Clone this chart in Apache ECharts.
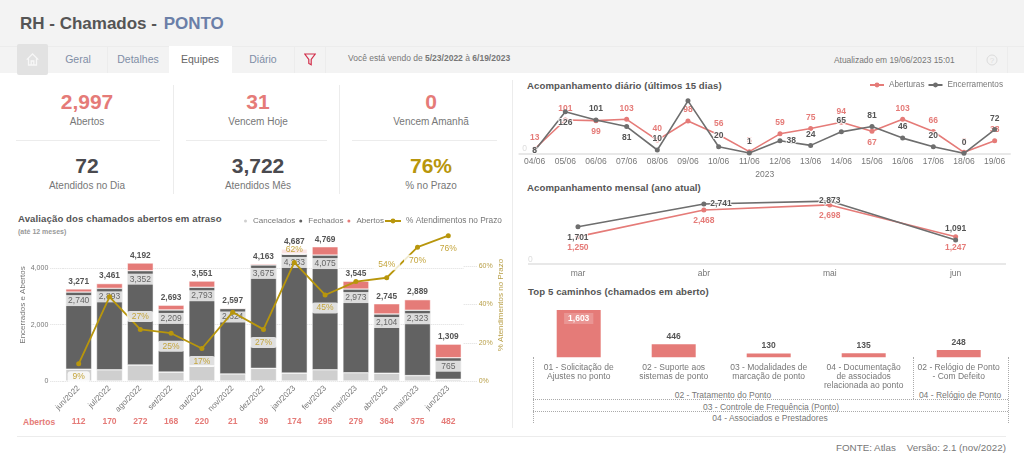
<!DOCTYPE html>
<html>
<head>
<meta charset="utf-8">
<title>RH - Chamados - PONTO</title>
<script src="https://cdn.jsdelivr.net/npm/echarts@6/dist/echarts.min.js"></script>
<style>
  html, body { margin: 0; padding: 0; background: #fff; }
  body { width: 1024px; height: 459px; overflow: hidden; position: relative; font-family: "Liberation Sans", Arial, sans-serif; color: #777; }
  .abs { position: absolute; white-space: nowrap; }
  .mid { transform: translate(-50%, -50%); }
  .vmid { transform: translateY(-50%); }
  .head { left: 0; top: 0; width: 1024px; height: 73px; background: #f3f3f3; }
  .hline { background: #ececec; height: 1px; }
  .vline { background: #ececec; width: 1px; }
  .tab { font-size: 10.5px; color: #7f8ea6; }
  .num { font-size: 21px; font-weight: bold; }
  .cap { font-size: 10px; color: #777; }
  .title { font-size: 9.6px; font-weight: bold; color: #555; letter-spacing: 0.1px; }
  .dot-h { border-top: 1px dotted #aaa; height: 0; }
  .dot-v { border-left: 1px dotted #aaa; width: 0; }
  .path { font-size: 8.5px; color: #777; }
  #main { position: absolute; left: 0; top: 0; width: 1024px; height: 459px; }
</style>
</head>
<body>
<div class="abs head"></div>
<div class="abs hline" style="left:0;top:46px;width:1024px"></div>
<div class="abs vmid" style="left:20px;top:24px;font-size:17px;font-weight:bold;color:#555">RH - Chamados - <span style="color:#6b7fa8;margin-left:2px">PONTO</span></div>

<div class="abs" style="left:17px;top:44px;width:31px;height:31px;background:#e2e2e2;border-radius:2px"></div>
<svg class="abs" style="left:26px;top:53px" width="13" height="13" viewBox="0 0 13 13" fill="none" stroke="#f7f7f7" stroke-width="1.3"><path d="M0.7 6.6 L6.5 1 L12.3 6.6 M2.5 5.5 V12 H10.5 V5.5 M5.2 12 V8 H7.8 V12"/></svg>
<div class="abs vline" style="left:107px;top:47px;height:26px"></div>
<div class="abs vline" style="left:294px;top:47px;height:26px"></div>
<div class="abs vline" style="left:325px;top:47px;height:26px"></div>
<div class="abs vline" style="left:976px;top:47px;height:26px"></div>
<div class="abs vline" style="left:1007px;top:47px;height:26px"></div>
<div class="abs" style="left:169px;top:46px;width:63px;height:28px;background:#fff"></div>
<div class="abs tab mid" style="left:78px;top:59px">Geral</div>
<div class="abs tab mid" style="left:138px;top:59px">Detalhes</div>
<div class="abs tab mid" style="left:200px;top:59px;color:#666">Equipes</div>
<div class="abs tab mid" style="left:263px;top:59px">Diário</div>
<svg class="abs" style="left:304px;top:53px" width="12" height="13" viewBox="0 0 12 13" fill="none" stroke="#d2304c" stroke-width="1.2"><path d="M0.8 1 H11.2 L7.2 6.4 V11.8 L4.8 10.4 V6.4 Z"/></svg>
<div class="abs vmid" style="left:348px;top:58px;font-size:8.5px;color:#777">Você está vendo de <b>5/23/2022</b> à <b>6/19/2023</b></div>
<div class="abs vmid" style="left:834px;top:60px;font-size:8.4px;color:#777">Atualizado em 19/06/2023 15:01</div>
<svg class="abs" style="left:986px;top:54px" width="12" height="12" viewBox="0 0 12 12" fill="none" stroke="#dcdcdc"><circle cx="6" cy="6" r="5"/><text x="6" y="9" font-size="8" text-anchor="middle" fill="#dcdcdc" stroke="none">?</text></svg>

<div class="abs num mid" style="left:87px;top:102px;color:#e57b78">2,997</div>
<div class="abs cap mid" style="left:87px;top:121px">Abertos</div>
<div class="abs num mid" style="left:258px;top:102px;color:#e57b78">31</div>
<div class="abs cap mid" style="left:258px;top:121px">Vencem Hoje</div>
<div class="abs num mid" style="left:431px;top:102px;color:#e57b78">0</div>
<div class="abs cap mid" style="left:431px;top:121px">Vencem Amanhã</div>
<div class="abs num mid" style="left:87px;top:166px;color:#4a4a4f">72</div>
<div class="abs cap mid" style="left:87px;top:185px">Atendidos no Dia</div>
<div class="abs num mid" style="left:258px;top:166px;color:#4a4a4f">3,722</div>
<div class="abs cap mid" style="left:258px;top:185px">Atendidos Mês</div>
<div class="abs num mid" style="left:431px;top:166px;color:#b8960c">76%</div>
<div class="abs cap mid" style="left:431px;top:185px">% no Prazo</div>
<div class="abs hline" style="left:16px;top:140px;width:144px"></div>
<div class="abs hline" style="left:186px;top:140px;width:141px"></div>
<div class="abs hline" style="left:352px;top:140px;width:145px"></div>
<div class="abs vline" style="left:173px;top:85px;height:109px"></div>
<div class="abs vline" style="left:339px;top:85px;height:109px"></div>
<div class="abs vline" style="left:512px;top:80px;height:348px"></div>
<div class="abs hline" style="left:17px;top:436px;width:989px"></div>

<div class="abs title vmid" style="left:18px;top:218px">Avaliação dos chamados abertos em atraso</div>
<div class="abs vmid" style="left:18px;top:231px;font-size:7px;font-weight:bold;color:#999">(até 12 meses)</div>
<div class="abs vmid" style="left:23px;top:422px;font-size:8.5px;font-weight:bold;color:#e57b78">Abertos</div>
<div class="abs title vmid" style="left:527px;top:85px">Acompanhamento diário (últimos 15 dias)</div>
<div class="abs title vmid" style="left:527px;top:187px">Acompanhamento mensal (ano atual)</div>
<div class="abs title vmid" style="left:528px;top:291px">Top 5 caminhos (chamados em aberto)</div>
<div class="abs" style="left:528px;top:263px;width:478px;height:2px;background:#e8e8e8"></div>

<div class="abs dot-v" style="left:533px;top:357px;height:66px"></div>
<div class="abs dot-v" style="left:913px;top:357px;height:42px"></div>
<div class="abs dot-v" style="left:1008px;top:357px;height:66px"></div>
<div class="abs dot-h" style="left:533px;top:399px;width:475px"></div>
<div class="abs dot-h" style="left:533px;top:411px;width:475px"></div>
<div class="abs path mid" style="left:723px;top:395px">02 - Tratamento do Ponto</div>
<div class="abs path mid" style="left:960px;top:395px">04 - Relógio de Ponto</div>
<div class="abs path mid" style="left:771px;top:406.5px">03 - Controle de Frequência (Ponto)</div>
<div class="abs path mid" style="left:770px;top:418px">04 - Associados e Prestadores</div>
<div class="abs vmid" style="left:836px;top:447px;font-size:9.8px;color:#777">FONTE: Atlas &nbsp;&nbsp; Versão: 2.1 (nov/2022)</div>

<div id="main"></div>

<script>
// chamados em atraso
const months = ['jun/2022', 'jul/2022', 'ago/2022', 'set/2022', 'out/2022', 'nov/2022', 'dez/2022', 'jan/2023', 'fev/2023', 'mar/2023', 'abr/2023', 'mai/2023', 'jun/2023']
const totals = [3271, 3461, 4192, 2693, 3551, 2597, 4163, 4687, 4769, 3545, 2745, 2889, 1309]
const cancelados = [419, 398, 568, 316, 538, 252, 449, 280, 399, 293, 277, 191, 62]
const fechados = [2740, 2893, 3352, 2209, 2793, 2324, 3675, 4233, 4075, 2973, 2104, 2323, 765]
const abertos = [112, 170, 272, 168, 220, 21, 39, 174, 295, 279, 364, 375, 482]
const noPrazo = [9, 44, 27, 25, 17, 36, 27, 62, 45, 52, 54, 70, 76]

// diario
const days = ['04/06', '05/06', '06/06', '07/06', '08/06', '09/06', '10/06', '11/06', '12/06', '13/06', '14/06', '15/06', '16/06', '17/06', '18/06', '19/06']
const dailyOpen = [13, 101, 99, 103, 40, 98, 56, 5, 59, 75, 94, 67, 103, 66, 3, 38]
const dailyClosed = [8, 126, 101, 81, 10, 159, 20, 1, 38, 24, 65, 81, 46, 20, 0, 72]

// mensal
const monthsYear = ['mar', 'abr', 'mai', 'jun']
const monthlyOpen = [1250, 2468, 2698, 1247]
const monthlyClosed = [1701, 2741, 2873, 1091]

// top 5
const paths = ['01 - Solicitação de\nAjustes no ponto', '02 - Suporte aos\nsistemas de ponto', '03 - Modalidades de\nmarcação de ponto', '04 - Documentação\nde associados\nrelacionada ao ponto', '02 - Relógio de Ponto\n- Com Defeito']
const pathValues = [1603, 446, 130, 135, 248]

const RED = '#e57b78'
const DARK = '#626262'
const LINE_DARK = '#6e6e6e'
const LIGHT = '#cfcfcf'
const GOLD = '#b8960c'
const GREY = '#777'
const FONT = '"Liberation Sans", Arial, sans-serif'

const fmt = v => Number(v).toLocaleString('en-US')

// label side per point, anything not listed goes on top
function placed(values, cats, spots, base) {
  return values.map((v, i) => {
    const spot = spots[cats[i]]
    if (spot === 'none') return { value: v, label: { show: false } }
    return { value: v, label: Object.assign({}, base, { position: spot || 'top' }) }
  })
}

const pctBox = { show: true, color: '#c4a53c', fontSize: 8.5, fontFamily: FONT, backgroundColor: 'rgba(255,255,255,0.8)', borderRadius: 3, padding: [1, 5], distance: 5, formatter: p => p.value + '%' }
const pctSpots = { 'jun/2022': 'bottom', 'jul/2022': 'none', 'set/2022': 'bottom', 'out/2022': 'bottom', 'nov/2022': 'none', 'dez/2022': 'bottom', 'fev/2023': 'bottom', 'mar/2023': 'none', 'mai/2023': 'bottom', 'jun/2023': 'bottom' }
const halo = { textBorderColor: 'rgba(255,255,255,0.85)', textBorderWidth: 2 }
const openBase = Object.assign({ show: true, color: RED, fontSize: 8.5, fontWeight: 'bold', fontFamily: FONT, distance: 4 }, halo)
const closedBase = Object.assign({ show: true, color: '#555', fontSize: 8.5, fontWeight: 'bold', fontFamily: FONT, distance: 4 }, halo)
const dailyOpenSpots = { '06/06': 'bottom', '15/06': 'bottom' }
const dailyClosedSpots = { '04/06': 'inside', '05/06': 'bottom', '07/06': 'bottom', '09/06': 'none', '12/06': 'right' }
const monthlyOpenSpots = { mar: 'bottom', abr: 'bottom', mai: 'bottom', jun: 'bottom' }
const monthlyClosedSpots = { mar: 'bottom', abr: 'right', mai: 'inside' }
const openFmt = Object.assign({}, openBase, { formatter: p => fmt(p.value) })
const closedFmt = Object.assign({}, closedBase, { formatter: p => fmt(p.value) })

function lineSeries(name, data, color, xi, yi, z) {
  return { name, type: 'line', xAxisIndex: xi, yAxisIndex: yi, data, z, symbol: 'circle', symbolSize: 5, showAllSymbol: true, itemStyle: { color }, lineStyle: { color, width: 1.6 } }
}

const option = {
  animation: false,
  textStyle: { fontFamily: FONT },
  legend: [
    { left: 242, top: 217, itemWidth: 5, itemHeight: 5, itemGap: 2, icon: 'circle', padding: 0, data: ['Cancelados', 'Fechados', 'Abertos'], textStyle: { color: GREY, fontSize: 8 } },
    { left: 384, top: 217, itemWidth: 16, itemHeight: 6, padding: 0, data: ['% Atendimentos no Prazo'], textStyle: { color: GREY, fontSize: 8.3 } },
    { left: 869, top: 81, itemWidth: 14, itemHeight: 6, itemGap: 3, padding: 0, data: ['Aberturas', 'Encerramentos'], textStyle: { color: GREY, fontSize: 8.2 } },
  ],
  grid: [
    { left: 63.3, width: 400.4, top: 229, height: 152 },
    { left: 519.3, width: 490.7, top: 100.5, height: 52.8 },
    { left: 515, width: 503.6, top: 198.3, height: 65.7 },
    { left: 531.2, width: 475, top: 298.3, height: 59 },
  ],
  xAxis: [
    { gridIndex: 0, type: 'category', data: months, axisLine: { show: false }, axisTick: { show: false }, axisLabel: { rotate: 45, interval: 0, fontSize: 8, color: GREY, margin: 6 } },
    { gridIndex: 0, type: 'category', position: 'bottom', offset: 36, data: abertos.map(String), axisLine: { show: false }, axisTick: { show: false }, axisLabel: { interval: 0, fontSize: 8.5, fontWeight: 'bold', color: RED, margin: 0 } },
    { gridIndex: 1, type: 'category', data: days, name: '2023', nameLocation: 'middle', nameGap: 17, nameTextStyle: { color: GREY, fontSize: 8.5 }, axisLine: { lineStyle: { color: '#e8e8e8', width: 2 } }, axisTick: { show: false }, axisLabel: { interval: 0, fontSize: 8.5, color: GREY, margin: 4 } },
    { gridIndex: 2, type: 'category', data: monthsYear, axisLine: { show: false }, axisTick: { show: false }, axisLabel: { fontSize: 8.5, color: GREY, margin: 5 } },
    { gridIndex: 3, type: 'category', data: paths, axisLine: { show: false }, axisTick: { show: false }, axisLabel: { interval: 0, fontSize: 8.5, lineHeight: 9, color: GREY, margin: 6 } },
  ],
  yAxis: [
    { gridIndex: 0, type: 'value', min: 0, max: 5400, interval: 2000, name: 'Encerrados e Abertos', nameLocation: 'middle', nameGap: 33, nameTextStyle: { color: GREY, fontSize: 8 }, axisLine: { show: false },
      axisTick: { show: true, customValues: [0, 2000, 4000], length: 13, lineStyle: { color: '#ddd', type: 'dotted' } },
      axisLabel: { customValues: [0, 2000, 4000], fontSize: 7, color: GREY, margin: 15, formatter: fmt },
      splitLine: { show: true, lineStyle: { color: '#ddd', type: 'dotted' } } },
    { gridIndex: 0, type: 'value', position: 'right', min: 0, max: 79.5, interval: 20, name: '% Atendimentos no Prazo', nameLocation: 'middle', nameGap: 29, nameTextStyle: { color: '#b9a04a', fontSize: 8 }, axisLine: { show: false },
      axisTick: { show: true, customValues: [0, 20, 40, 60], length: 13, lineStyle: { color: '#ddd', type: 'dotted' } },
      axisLabel: { customValues: [0, 20, 40, 60], fontSize: 7, color: '#b9a04a', margin: 15, formatter: v => v + '%' },
      splitLine: { show: false } },
    { gridIndex: 1, type: 'value', min: 0, max: 160, interval: 160, axisLine: { show: false }, axisTick: { show: false }, splitLine: { show: false },
      axisLabel: { inside: true, margin: 3, verticalAlign: 'bottom', fontSize: 8.5, color: '#ddd', formatter: v => (v === 0 ? '0' : '') } },
    { gridIndex: 2, type: 'value', min: 0, max: 3000, interval: 3000, axisLine: { show: false }, axisTick: { show: false }, splitLine: { show: false },
      axisLabel: { inside: true, margin: 13, verticalAlign: 'bottom', fontSize: 8.5, color: '#ddd', formatter: v => (v === 0 ? '0' : '') } },
    { gridIndex: 3, type: 'value', min: 0, max: 2000, show: false },
  ],
  series: [
    { name: 'Cancelados', type: 'bar', stack: 'atraso', barWidth: 26, data: cancelados, itemStyle: { color: LIGHT, borderColor: '#fff', borderWidth: 0.5 } },
    { name: 'Fechados', type: 'bar', stack: 'atraso', data: fechados, itemStyle: { color: DARK, borderColor: '#fff', borderWidth: 0.5 },
      label: { show: true, position: 'insideTop', distance: 3, color: '#666', fontSize: 8.5, width: 20, align: 'center', backgroundColor: 'rgba(255,255,255,0.78)', padding: [1, 3], formatter: p => fmt(p.value) } },
    { name: 'Abertos', type: 'bar', stack: 'atraso', data: abertos, itemStyle: { color: RED, borderColor: '#fff', borderWidth: 0.5 } },
    { name: 'Total', type: 'line', data: totals, z: 6, symbol: 'circle', symbolSize: 1, showAllSymbol: true, itemStyle: { color: 'transparent' }, lineStyle: { width: 0, color: 'transparent' }, label: { show: true, position: 'top', distance: 3, color: '#555', fontSize: 8.3, fontWeight: 'bold', formatter: p => fmt(p.value) } },
    Object.assign(lineSeries('% Atendimentos no Prazo', placed(noPrazo, months, pctSpots, pctBox), GOLD, 0, 1, 5), { lineStyle: { color: GOLD, width: 1.8 } }),

    lineSeries('Aberturas', placed(dailyOpen, days, dailyOpenSpots, openBase), RED, 2, 2, 3),
    lineSeries('Encerramentos', placed(dailyClosed, days, dailyClosedSpots, closedBase), LINE_DARK, 2, 2, 4),

    lineSeries('Abertura mensal', placed(monthlyOpen, monthsYear, monthlyOpenSpots, openFmt), RED, 3, 3, 3),
    lineSeries('Encerramento mensal', placed(monthlyClosed, monthsYear, monthlyClosedSpots, closedFmt), LINE_DARK, 3, 3, 4),

    { name: 'Top 5', type: 'bar', xAxisIndex: 4, yAxisIndex: 4, barWidth: 44, itemStyle: { color: RED },
      data: pathValues.map((v, i) => (i === 0
        ? { value: v, label: { position: 'insideTop', distance: 3, color: '#fff', backgroundColor: 'rgba(255,255,255,0.2)', padding: [1, 4] } }
        : v)),
      label: { show: true, position: 'top', distance: 3, color: '#555', fontSize: 8.5, fontWeight: 'bold', formatter: p => fmt(p.value) } },
  ],
}

const myChart = echarts.init(document.getElementById('main'))
myChart.setOption(option)
</script>
</body>
</html>
